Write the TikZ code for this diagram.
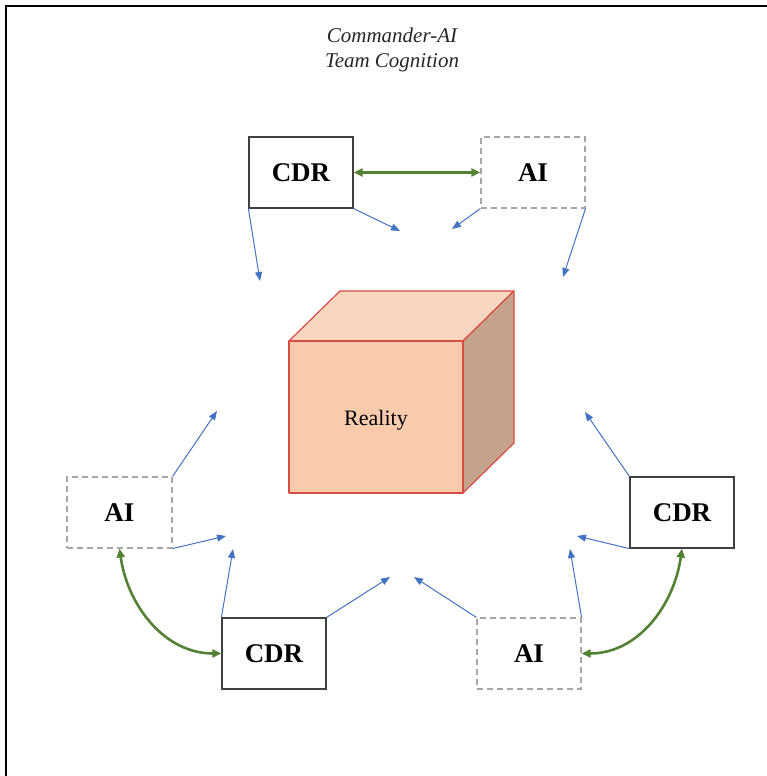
\documentclass[tikz,border=0pt]{standalone}
\usepackage{fontspec}
\setmainfont{Liberation Serif}
\usetikzlibrary{arrows.meta}
\definecolor{linkblue}{HTML}{4472C4}
\definecolor{teamgreen}{HTML}{548235}
\definecolor{cubefront}{HTML}{F8CBAD}
\definecolor{cubetop}{HTML}{F9D6C0}
\definecolor{cubeside}{HTML}{C5A28A}
\definecolor{cubeedge}{HTML}{D94B45}
\tikzset{
  agentbox/.style={minimum width=104pt, minimum height=71pt, inner sep=0pt,
    font=\fontsize{27}{31}\selectfont\bfseries},
  cdrbox/.style={agentbox, draw=black!75, line width=1.2pt},
  aibox/.style={agentbox, draw=black!35, line width=1.1pt, dash pattern=on 6pt off 4pt},
  sense/.style={draw=linkblue, line width=1pt, -{Triangle[length=9pt,width=7pt]}},
  teamlink/.style={draw=teamgreen, line width=2.6pt, {Triangle[length=9pt,width=8pt]}-{Triangle[length=9pt,width=8pt]}},
  cubeface/.style={draw=cubeedge, line width=1.2pt, line join=round},
}
\begin{document}
\begin{tikzpicture}[x=1pt,y=1pt]
\useasboundingbox (0,0) rectangle (767,776);
% frame (top and left only)
\draw[line width=1.2pt] (767,770) -- (6,770) -- (6,0);
% title
\node[font=\fontsize{21}{25}\selectfont\itshape, text=black!85, align=center] (title) at (392,726) {Commander-AI\\Team Cognition};
% cube
\filldraw[cubeface, fill=cubetop] (289,435) -- (340,485) -- (514,485) -- (463,435) -- cycle;
\filldraw[cubeface, fill=cubeside] (463,435) -- (514,485) -- (514,333) -- (463,283) -- cycle;
\filldraw[cubeface, fill=cubefront] (289,283) rectangle (463,435);
\node[font=\fontsize{22}{26}\selectfont] (reality) at (376,356) {Reality};
% agent boxes
\node[cdrbox] (tCDR) at (301,603.5) {CDR};
\node[aibox]  (tAI)  at (533,603.5) {AI};
\node[aibox, minimum width=105pt] (lAI) at (119.5,263.5) {AI};
\node[cdrbox] (bCDR) at (274,122.5) {CDR};
\node[cdrbox] (rCDR) at (682,263.5) {CDR};
\node[aibox]  (bAI)  at (529,122.5) {AI};
% free arrow ends
\coordinate (t1) at (260,495);
\coordinate (t2) at (400,545);
\coordinate (t3) at (452,547);
\coordinate (t4) at (563,499);
\coordinate (t5) at (217,365);
\coordinate (t6) at (226,240);
\coordinate (t7) at (233,227);
\coordinate (t8) at (390,199);
\coordinate (t9) at (585,364);
\coordinate (t10) at (577,240);
\coordinate (t11) at (414,199);
\coordinate (t12) at (570,227);
% sensing arrows
\draw[sense] (tCDR.south west) -- (t1);
\draw[sense] (tCDR.south east) -- (t2);
\draw[sense] (tAI.south west) -- (t3);
\draw[sense] (tAI.south east) -- (t4);
\draw[sense] (lAI.north east) -- (t5);
\draw[sense] (lAI.south east) -- (t6);
\draw[sense] (bCDR.north west) -- (t7);
\draw[sense] (bCDR.north east) -- (t8);
\draw[sense] (rCDR.north west) -- (t9);
\draw[sense] (rCDR.south west) -- (t10);
\draw[sense] (bAI.north west) -- (t11);
\draw[sense] (bAI.north east) -- (t12);
% team links
\draw[teamlink] (tCDR.east) -- (tAI.west);
\draw[teamlink] (lAI.south) to[out=-82,in=180] (bCDR.west);
\draw[teamlink] (rCDR.south) to[out=-98,in=0] (bAI.east);
\end{tikzpicture}
\end{document}
